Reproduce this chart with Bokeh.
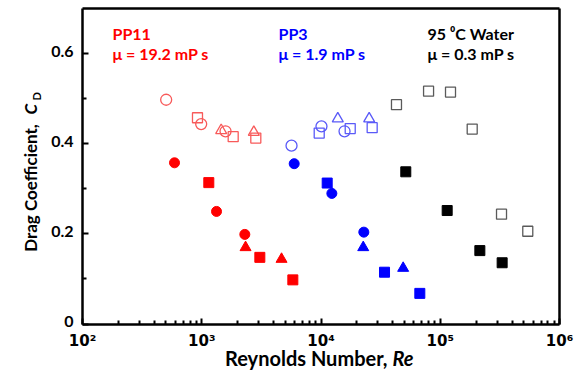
import math
from bokeh.plotting import figure
from bokeh.models import Range1d, FixedTicker, Label, LogAxis, LinearAxis
from bokeh.embed import file_html
from bokeh.resources import INLINE

# ---------------- data ----------------
x_major = [1e2, 1e3, 1e4, 1e5, 1e6]
x_major_labels = ["10\u00b2", "10\u00b3", "10\u2074", "10\u2075", "10\u2076"]
y_major = [0, 0.2, 0.4, 0.6]
y_major_labels = ["0", "0.2", "0.4", "0.6"]
y_minor = [0.1, 0.3, 0.5]

# PP11 (mu = 19.2 mP s)
pp11_oc_re = [503, 989, 1583]
pp11_oc_cd = [0.498, 0.444, 0.428]
pp11_os_re = [921, 1835, 2840]
pp11_os_cd = [0.458, 0.416, 0.413]
pp11_ot_re = [1455, 2733]
pp11_ot_cd = [0.430, 0.426]
pp11_fc_re = [591, 1330, 2297]
pp11_fc_cd = [0.358, 0.250, 0.199]
pp11_fs_re = [1146, 3070, 5805]
pp11_fs_cd = [0.314, 0.148, 0.098]
pp11_ft_re = [2330, 4668]
pp11_ft_cd = [0.170, 0.144]

# PP3 (mu = 1.9 mP s)
pp3_oc_re = [5660, 10090, 15750]
pp3_oc_cd = [0.396, 0.439, 0.428]
pp3_os_re = [9660, 17580, 26860]
pp3_os_cd = [0.424, 0.434, 0.436]
pp3_ot_re = [13830, 25350]
pp3_ot_cd = [0.456, 0.456]
pp3_fc_re = [5960, 12330, 22860]
pp3_fc_cd = [0.356, 0.290, 0.204]
pp3_fs_re = [11270, 34100, 67400]
pp3_fs_cd = [0.313, 0.115, 0.068]
pp3_ft_re = [22600, 48860]
pp3_ft_cd = [0.170, 0.124]

# 95 C water (mu = 0.3 mP s)
w_os_re = [42950, 79800, 121900, 185300, 326400, 542000]
w_os_cd = [0.487, 0.517, 0.515, 0.433, 0.244, 0.206]
w_fs_re = [51400, 114300, 214800, 330400]
w_fs_cd = [0.338, 0.252, 0.163, 0.136]

RED, RED_L = "#FF0000", "#F85A5A"
BLUE, BLUE_L = "#0000FF", "#5A5AF8"
BLACK, GREY = "#000000", "#5A5A5A"
FONT = "Lato"
TICK_FONT = "DejaVu Sans"

# ---------------- layout geometry ----------------
W, H = 583, 373
AX_LEFT_PX, AX_RIGHT_PX = 82, 559      # pixel columns of 1e2 and 1e6
AX_TOP_PX, AX_ZERO_PX = 8.3, 323.5     # pixel rows of 0.7 and 0
PX_PER_DEC = (AX_RIGHT_PX - AX_LEFT_PX) / 4.0
PX_PER_UNIT = (AX_ZERO_PX - AX_TOP_PX) / 0.7

x_start = 10 ** (2 - AX_LEFT_PX / PX_PER_DEC)
x_end = 10 ** (6 + (W - AX_RIGHT_PX) / PX_PER_DEC)
y_start = -(H - AX_ZERO_PX) / PX_PER_UNIT
y_end = AX_ZERO_PX / PX_PER_UNIT

p = figure(width=W, height=H, x_axis_type="log",
           x_range=Range1d(x_start, x_end), y_range=Range1d(y_start, y_end),
           output_backend="svg", toolbar_location=None,
           min_border_left=0, min_border_right=0,
           min_border_top=0, min_border_bottom=0)
p.grid.visible = False
p.outline_line_color = None
p.background_fill_color = "white"
p.border_fill_color = "white"

minor_x = [m * 10 ** e for e in range(2, 6) for m in range(2, 10)]
p.xaxis.ticker = FixedTicker(ticks=x_major, minor_ticks=minor_x)
p.xaxis.major_label_overrides = {t: l for t, l in zip(x_major, x_major_labels)}
p.xaxis.fixed_location = 0
p.xaxis.bounds = (1e2, 1e6)
p.yaxis.ticker = FixedTicker(ticks=y_major, minor_ticks=y_minor)
p.yaxis.fixed_location = 1e2
p.yaxis.bounds = (0, 0.7)

for ax in (p.xaxis, p.yaxis):
    ax.axis_line_width = 2.5
    ax.axis_line_color = "black"
    ax.major_tick_in = 6
    ax.major_tick_out = 0
    ax.minor_tick_in = 4
    ax.minor_tick_out = 0
    ax.major_tick_line_width = 2
    ax.minor_tick_line_width = 2
    ax.major_label_text_font = TICK_FONT
    ax.major_label_text_font_style = "bold"
    ax.major_label_text_font_size = "15px"
    ax.major_label_text_color = "black"
p.xaxis.major_label_standoff = 8
# y tick labels are drawn as right-aligned labels at the tick values (below)
p.yaxis.major_label_text_color = None

# top and right frame lines
top_ax = LogAxis(ticker=FixedTicker(ticks=[]), fixed_location=0.7, bounds=(1e2, 1e6),
                 axis_line_width=2.5, major_tick_in=0, major_tick_out=0,
                 minor_tick_in=0, minor_tick_out=0)
right_ax = LinearAxis(ticker=FixedTicker(ticks=[]), fixed_location=1e6, bounds=(0, 0.7),
                      axis_line_width=2.5, major_tick_in=0, major_tick_out=0,
                      minor_tick_in=0, minor_tick_out=0)
p.add_layout(top_ax, "above")
p.add_layout(right_ax, "right")


def draw(xs, ys, marker, color, filled, size):
    if filled:
        p.scatter(xs, ys, marker=marker, size=size, fill_color=color,
                  line_color=color, line_width=1)
    else:
        p.scatter(xs, ys, marker=marker, size=size, fill_color=None,
                  line_color=color, line_width=1.3)


draw(pp11_oc_re, pp11_oc_cd, "circle", RED_L, False, 11)
draw(pp11_os_re, pp11_os_cd, "square", RED_L, False, 10)
draw(pp11_ot_re, pp11_ot_cd, "triangle", RED_L, False, 11)
draw(pp11_fc_re, pp11_fc_cd, "circle", RED, True, 10)
draw(pp11_fs_re, pp11_fs_cd, "square", RED, True, 10)
draw(pp11_ft_re, pp11_ft_cd, "triangle", RED, True, 11)

draw(pp3_oc_re, pp3_oc_cd, "circle", BLUE_L, False, 11)
draw(pp3_os_re, pp3_os_cd, "square", BLUE_L, False, 10)
draw(pp3_ot_re, pp3_ot_cd, "triangle", BLUE_L, False, 11)
draw(pp3_fc_re, pp3_fc_cd, "circle", BLUE, True, 10)
draw(pp3_fs_re, pp3_fs_cd, "square", BLUE, True, 10)
draw(pp3_ft_re, pp3_ft_cd, "triangle", BLUE, True, 11)

draw(w_os_re, w_os_cd, "square", GREY, False, 10)
draw(w_fs_re, w_fs_cd, "square", BLACK, True, 10)

# y tick labels, anchored at the axis position and the tick values
Y_LABEL_SIZE = 16
for val, txt in zip(y_major, y_major_labels):
    p.add_layout(Label(x=x_major[0], y=val, x_offset=-9, y_offset=2.25,
                       text=txt, text_color="black", text_font=FONT,
                       text_font_style="bold", text_font_size=f"{Y_LABEL_SIZE}px",
                       text_align="right", text_baseline="alphabetic"))


# helpers converting reference pixel positions into data coordinates (annotations only)
def dx(px):
    return 10 ** (2 + (px - AX_LEFT_PX) / PX_PER_DEC)


def dy(py):
    return (AX_ZERO_PX - py) / PX_PER_UNIT


def lab(text, px, py, color="black", size=16, style="bold", angle=0.0, align="left"):
    # empirical correction: the rendered baseline sits about half an em below the anchor
    if angle == 0.0:
        py = py - 0.5 * size
    else:
        px = px - 0.5 * size
    p.add_layout(Label(x=dx(px), y=dy(py), text=text, text_color=color,
                       text_font=FONT, text_font_style=style,
                       text_font_size=f"{size}px", text_align=align,
                       text_baseline="alphabetic", angle=angle))


# series annotations
lab("PP11", 112, 40.5, RED)
lab("\u03bc = 19.2 mP s", 112, 60.5, RED)
lab("PP3", 278, 40.5, BLUE)
lab("\u03bc = 1.9 mP s", 278, 60.5, BLUE)
lab("95 \u2070C Water", 427, 40.5, BLACK)
lab("\u03bc = 0.3 mP s", 427, 60.5, BLACK)

# x axis title: "Reynolds Number, Re"
lab("Reynolds Number,", 387, 367, size=20, align="right")
lab("Re", 392, 367, size=20, style="bold italic")

# y axis title: "Drag Coefficient, C_D" (rotated)
lab("Drag Coefficient,", 38, 187.5, size=17, angle=math.pi / 2, align="center")
lab("C", 38, 114, size=17, style="bold italic", angle=math.pi / 2)
lab("D", 41, 100, size=11, angle=math.pi / 2)

open("out.html", "w").write(file_html(p, INLINE))
